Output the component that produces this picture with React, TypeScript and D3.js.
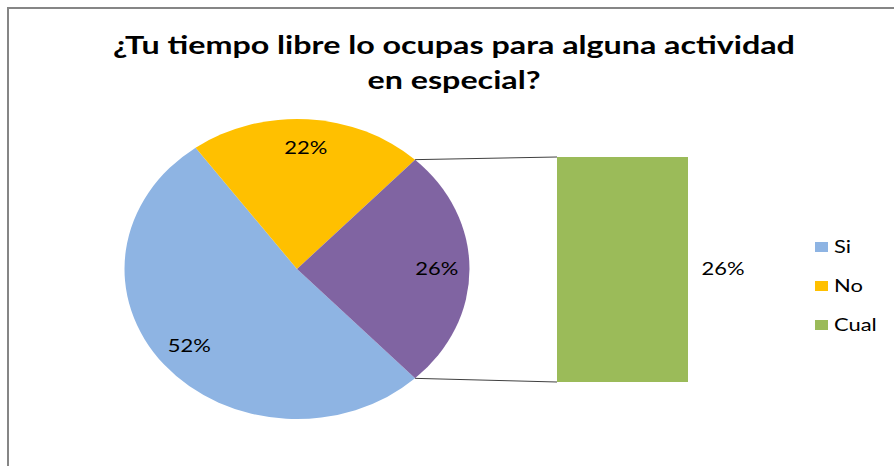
import React from 'react';
import * as d3 from 'd3';

const title = ['¿Tu tiempo libre lo ocupas para alguna actividad', 'en especial?'];
const categories = ['Si', 'No', 'Cual'];
const values = [52, 22, 26];
// the last category is split out of the pie into the bar on the right
const pieLabels = ['Si', 'No', 'Otro'];
const pieColors = ['#8EB4E3', '#FFC000', '#8064A2'];
const legendColors = ['#8EB4E3', '#FFC000', '#9BBB59'];

const W = 894;
const H = 466;
const sx = 1.15; // the picture is stretched horizontally
const tsx = 1.29; // text looks wider still (Calibri vs Lato)
const font = 'Lato, "Open Sans", sans-serif';

const App = () => {
    const total = d3.sum(values);
    const pieValues = values.map((v, i) => ({ label: pieLabels[i], value: v }));
    const otherShare = values[values.length - 1] / total;

    // split slice centred on the right (90deg)
    const start = Math.PI / 2 + otherShare * Math.PI;
    const pie = d3.pie<{ label: string; value: number }>()
        .sort(null)
        .value(d => d.value)
        .startAngle(start)
        .endAngle(start + Math.PI * 2);
    const arcs = pie(pieValues);

    const cx = 297;
    const cy = 269;
    const ry = 150;
    const rx = ry * sx;
    const arc = d3.arc<d3.PieArcDatum<{ label: string; value: number }>>()
        .innerRadius(0)
        .outerRadius(ry);

    const edge = (a: number) => [cx + Math.sin(a) * rx, cy - Math.cos(a) * ry];

    // secondary bar
    const x = d3.scaleBand().domain(['bar']).range([557, 688]).padding(0);
    const y = d3.scaleLinear().domain([0, values[2]]).range([382, 157]);
    const other = arcs[arcs.length - 1];
    const [p1x, p1y] = edge(other.startAngle);
    const [p2x, p2y] = edge(other.endAngle);

    const legendY = d3.scalePoint().domain(categories).range([247, 325]);

    return (
        <svg width={W} height={H} style={{ position: 'absolute', left: 0, top: 0, background: '#fff' }}
             fontFamily={font}>
            <rect x={8} y={8} width={W + 20} height={H + 20} fill="#fff" stroke="#868686" strokeWidth={2}/>

            {title.map((t, i) => (
                <text key={i} transform={`translate(454,${53.5 + i * 35}) scale(${tsx},1)`}
                      textAnchor="middle" fontSize={25} fontWeight="bold" fill="#000">{t}</text>
            ))}

            <g transform={`translate(${cx},${cy}) scale(${sx},1)`}>
                {arcs.map((a, i) => (
                    <path key={i} d={arc(a) || ''} fill={pieColors[i]}/>
                ))}
            </g>
            {arcs.map((a, i) => {
                const mid = (a.startAngle + a.endAngle) / 2;
                const lx = cx + Math.sin(mid) * rx * 0.81;
                const ly = cy - Math.cos(mid) * ry * 0.81;
                return (
                    <text key={i} transform={`translate(${lx},${ly}) scale(${tsx},1)`} dy="0.35em"
                          textAnchor="middle" fontSize={17} fill="#000">
                        {Math.round(a.value / total * 100)}%
                    </text>
                );
            })}

            <line x1={p1x} y1={p1y} x2={x('bar')} y2={y(values[2])} stroke="#404040" strokeWidth={1}/>
            <line x1={p2x} y1={p2y} x2={x('bar')} y2={y(0)} stroke="#404040" strokeWidth={1}/>
            <rect x={x('bar')} y={y(values[2])} width={x.bandwidth()} height={y(0) - y(values[2])}
                  fill={legendColors[2]}/>
            <text transform={`translate(${(x('bar') || 0) + x.bandwidth() + 35},${y(values[2] / 2)}) scale(${tsx},1)`}
                  dy="0.35em" textAnchor="middle" fontSize={17} fill="#000">
                {Math.round(values[2] / total * 100)}%
            </text>

            {categories.map((c, i) => (
                <g key={c} transform={`translate(815,${legendY(c)})`}>
                    <rect x={0} y={-5} width={13} height={10} fill={legendColors[i]}/>
                    <text transform={`translate(19,0) scale(${tsx},1)`} dy="0.36em" fontSize={17} fill="#000">{c}</text>
                </g>
            ))}
        </svg>
    );
};

export default App;
